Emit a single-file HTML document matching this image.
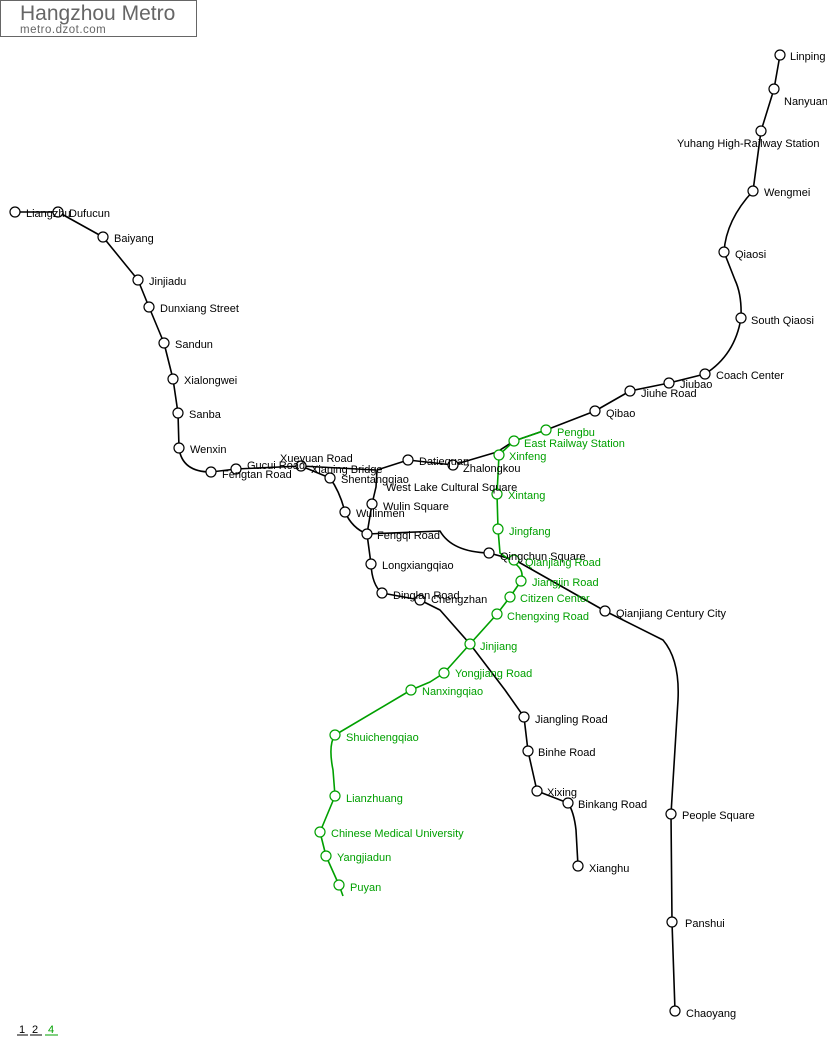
<!DOCTYPE html>
<html><head><meta charset="utf-8"><style>
html,body{margin:0;padding:0;background:#fff;width:827px;height:1039px;overflow:hidden}
svg{display:block}
text{font-family:"Liberation Sans","DejaVu Sans",sans-serif;font-size:11px;fill:#000}
.g{fill:#00a000}
</style></head><body>
<svg width="827" height="1039" viewBox="0 0 827 1039" xmlns="http://www.w3.org/2000/svg">
<rect x="0.5" y="0.5" width="196" height="36" fill="#fff" stroke="#666"/>
<text x="20" y="20" style="font-size:21px;fill:#666">Hangzhou Metro</text>
<text x="20" y="33" style="font-size:11.5px;fill:#666;letter-spacing:0.5px">metro.dzot.com</text>

<g fill="none" stroke="#000" stroke-width="1.6" stroke-linejoin="round">
<path d="M578,866 L576,830 Q574,812 568,803 L537,791 L528,751 L524,717 L505,690 L470,644 L440,610 L420,600 L382,593 Q372,585 371,564 L367,534 L372,504 L376,487 L377,470 L408,460 L453,465 L497,452 L514,441 L546,430 L595,411 L630,391 L669,383 L705,374 Q735,355 741,318 Q742,295 735,280 L724,252 Q726,220 753,191 L761,131 L774,89 L780,55"/>
<path d="M15,212 L58,212 L103,237 L138,280 L149,307 L164,343 L173,379 L178,413 L179,448 Q182,472 211,472 L236,469 L301,466 L376,470"/>
<path d="M301,466 L330,478 Q340,492 345,512 Q352,528 367,534 L440,531 Q452,552 489,553 L515,560 L605,611 L663,640 Q680,660 678,700 L671,814 L672,922 L675,1011"/>
</g>
<path fill="none" stroke="#00a000" stroke-width="1.6" stroke-linejoin="round" d="M546,430 L514,441 L499,455 L497,494 L498,529 L500,553 L514,563 Q525,570 521,581 L510,597 L497,614 L470,644 L444,673 L430,682 L411,690 L335,735 Q328,745 333,770 L335,796 L320,832 L326,856 L339,885 L343,896"/>

<g fill="#fff" stroke="#000" stroke-width="1.2">
<circle cx="578" cy="866" r="5"/><circle cx="568" cy="803" r="5"/><circle cx="537" cy="791" r="5"/><circle cx="528" cy="751" r="5"/><circle cx="524" cy="717" r="5"/><circle cx="420" cy="600" r="5"/><circle cx="382" cy="593" r="5"/><circle cx="371" cy="564" r="5"/><circle cx="367" cy="534" r="5"/><circle cx="372" cy="504" r="5"/><circle cx="408" cy="460" r="5"/><circle cx="453" cy="465" r="5"/><circle cx="595" cy="411" r="5"/><circle cx="630" cy="391" r="5"/><circle cx="669" cy="383" r="5"/><circle cx="705" cy="374" r="5"/><circle cx="741" cy="318" r="5"/><circle cx="724" cy="252" r="5"/><circle cx="753" cy="191" r="5"/><circle cx="761" cy="131" r="5"/><circle cx="774" cy="89" r="5"/><circle cx="780" cy="55" r="5"/>
<circle cx="15" cy="212" r="5"/><circle cx="58" cy="212" r="5"/><circle cx="103" cy="237" r="5"/><circle cx="138" cy="280" r="5"/><circle cx="149" cy="307" r="5"/><circle cx="164" cy="343" r="5"/><circle cx="173" cy="379" r="5"/><circle cx="178" cy="413" r="5"/><circle cx="179" cy="448" r="5"/><circle cx="211" cy="472" r="5"/><circle cx="236" cy="469" r="5"/><circle cx="301" cy="466" r="5"/><circle cx="330" cy="478" r="5"/><circle cx="345" cy="512" r="5"/><circle cx="489" cy="553" r="5"/><circle cx="605" cy="611" r="5"/><circle cx="671" cy="814" r="5"/><circle cx="672" cy="922" r="5"/><circle cx="675" cy="1011" r="5"/>
</g>
<g fill="#fff" stroke="#00a000" stroke-width="1.2">
<circle cx="546" cy="430" r="5"/><circle cx="514" cy="441" r="5"/><circle cx="499" cy="455" r="5"/><circle cx="497" cy="494" r="5"/><circle cx="498" cy="529" r="5"/><circle cx="514" cy="560" r="5"/><circle cx="521" cy="581" r="5"/><circle cx="510" cy="597" r="5"/><circle cx="497" cy="614" r="5"/><circle cx="444" cy="673" r="5"/><circle cx="411" cy="690" r="5"/><circle cx="335" cy="735" r="5"/><circle cx="335" cy="796" r="5"/><circle cx="320" cy="832" r="5"/><circle cx="326" cy="856" r="5"/><circle cx="339" cy="885" r="5"/>
</g>
<circle cx="470" cy="644" r="5" fill="#fff" stroke="#00a000" stroke-width="1.2"/>

<text x="790" y="60">Linping</text>
<text x="784" y="105">Nanyuan</text>
<text x="677" y="147">Yuhang High-Railway Station</text>
<text x="764" y="196">Wengmei</text>
<text x="735" y="258">Qiaosi</text>
<text x="751" y="324">South Qiaosi</text>
<text x="716" y="379">Coach Center</text>
<text x="680" y="388">Jiubao</text>
<text x="641" y="397">Jiuhe Road</text>
<text x="606" y="417">Qibao</text>
<text x="26" y="217">Liangzhu</text>
<text x="69" y="217">Dufucun</text>
<text x="114" y="242">Baiyang</text>
<text x="149" y="285">Jinjiadu</text>
<text x="160" y="312">Dunxiang Street</text>
<text x="175" y="348">Sandun</text>
<text x="184" y="384">Xialongwei</text>
<text x="189" y="418">Sanba</text>
<text x="190" y="453">Wenxin</text>
<text x="222" y="478">Fengtan Road</text>
<text x="247" y="469">Gucui Road</text>
<text x="280" y="462">Xueyuan Road</text>
<text x="311" y="473">Xianing Bridge</text>
<text x="341" y="483">Shentangqiao</text>
<text x="386" y="491">West Lake Cultural Square</text>
<text x="383" y="510">Wulin Square</text>
<text x="356" y="517">Wulinmen</text>
<text x="377" y="539">Fengqi Road</text>
<text x="419" y="465">Datiequan</text>
<text x="463" y="472">Zhalongkou</text>
<text x="500" y="560">Qingchun Square</text>
<text x="382" y="569">Longxiangqiao</text>
<text x="393" y="599">Dinglan Road</text>
<text x="431" y="603">Chengzhan</text>
<text x="616" y="617">Qianjiang Century City</text>
<text x="535" y="723">Jiangling Road</text>
<text x="538" y="756">Binhe Road</text>
<text x="547" y="796">Xixing</text>
<text x="578" y="808">Binkang Road</text>
<text x="589" y="872">Xianghu</text>
<text x="682" y="819">People Square</text>
<text x="685" y="927">Panshui</text>
<text x="686" y="1017">Chaoyang</text>

<text class="g" x="557" y="436">Pengbu</text>
<text class="g" x="524" y="447">East Railway Station</text>
<text class="g" x="509" y="460">Xinfeng</text>
<text class="g" x="508" y="499">Xintang</text>
<text class="g" x="509" y="535">Jingfang</text>
<text class="g" x="525" y="566">Qianjiang Road</text>
<text class="g" x="532" y="586">Jiangjin Road</text>
<text class="g" x="520" y="602">Citizen Center</text>
<text class="g" x="507" y="620">Chengxing Road</text>
<text class="g" x="480" y="650">Jinjiang</text>
<text class="g" x="455" y="677">Yongjiang Road</text>
<text class="g" x="422" y="695">Nanxingqiao</text>
<text class="g" x="346" y="741">Shuichengqiao</text>
<text class="g" x="346" y="802">Lianzhuang</text>
<text class="g" x="331" y="837">Chinese Medical University</text>
<text class="g" x="337" y="861">Yangjiadun</text>
<text class="g" x="350" y="891">Puyan</text>

<text x="19" y="1033">1</text><line x1="17" y1="1035" x2="28" y2="1035" stroke="#000"/>
<text x="32" y="1033">2</text><line x1="30" y1="1035" x2="42" y2="1035" stroke="#000"/>
<text class="g" x="48" y="1033">4</text><line x1="45" y1="1035" x2="58" y2="1035" stroke="#00a000"/>
</svg>
</body></html>
